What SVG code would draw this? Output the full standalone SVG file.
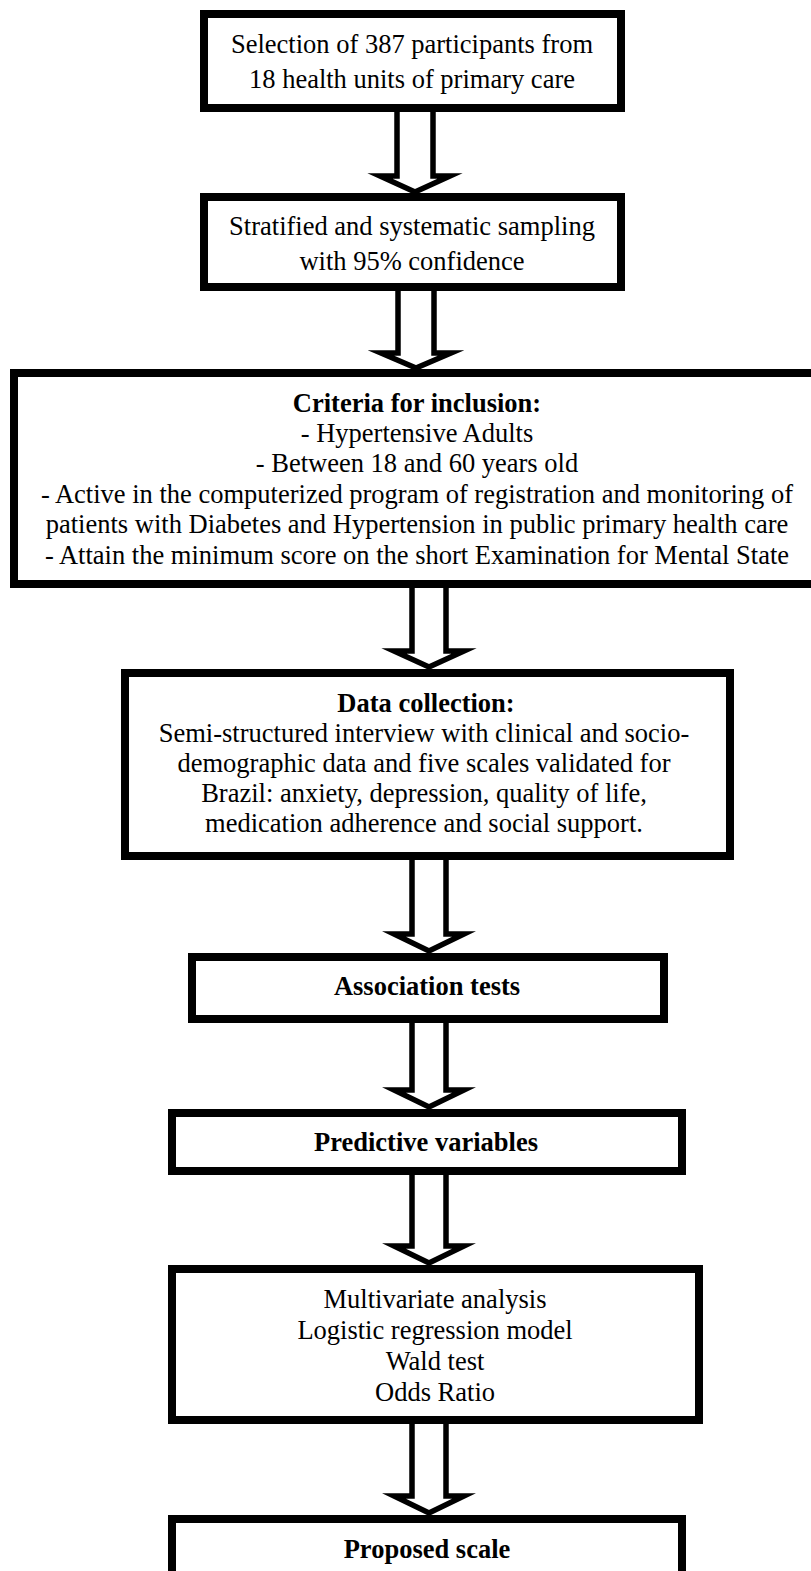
<svg xmlns="http://www.w3.org/2000/svg" width="811" height="1571" viewBox="0 0 811 1571">
<style>
.box{fill:#fff;stroke:#000;stroke-width:8}
.arr{fill:none;stroke:#000;stroke-width:5.5;stroke-linejoin:miter;stroke-miterlimit:10}
text{font-family:"Liberation Serif","Times New Roman",serif;font-size:26.5px;fill:#000;text-anchor:middle}
.b{font-weight:bold}
</style>
<rect width="811" height="1571" fill="#fff"/>
<g id="connectors">
<path class="arr" d="M397,112 V176 H380 L415,192 L450,176 H433 V112"/>
<path class="arr" d="M398,291 V353 H381 L416,368 L451,353 H434 V291"/>
<path class="arr" d="M412,588 V651 H394 L429,667 L464,651 H446 V588"/>
<path class="arr" d="M412,860 V934 H394 L429,951 L464,934 H446 V860"/>
<path class="arr" d="M412,1023 V1090 H394 L429,1107 L464,1090 H446 V1023"/>
<path class="arr" d="M412,1175 V1246 H394 L429,1263 L464,1246 H446 V1175"/>
<path class="arr" d="M412,1424 V1496 H394 L429,1513 L464,1496 H446 V1424"/>
</g>
<g id="n1">
<rect class="box" x="204" y="14" width="417" height="94"/>
<text x="412" y="53">Selection of 387 participants from</text>
<text x="412" y="88">18 health units of primary care</text>
</g>
<g id="n2">
<rect class="box" x="204" y="197" width="417" height="90"/>
<text x="412" y="235">Stratified and systematic sampling</text>
<text x="412" y="270">with 95% confidence</text>
</g>
<g id="n3">
<rect class="box" x="14" y="373" width="812" height="211"/>
<text x="417" y="412" class="b">Criteria for inclusion:</text>
<text x="417" y="442">- Hypertensive Adults</text>
<text x="417" y="472">- Between 18 and 60 years old</text>
<text x="417" y="503">- Active in the computerized program of registration and monitoring of</text>
<text x="417" y="533">patients with Diabetes and Hypertension in public primary health care</text>
<text x="417" y="564">- Attain the minimum score on the short Examination for Mental State</text>
</g>
<g id="n4">
<rect class="box" x="125" y="673" width="605" height="183"/>
<text x="426" y="712" class="b">Data collection:</text>
<text x="424" y="742">Semi-structured interview with clinical and socio-</text>
<text x="424" y="772">demographic data and five scales validated for</text>
<text x="424" y="802">Brazil: anxiety, depression, quality of life,</text>
<text x="424" y="832">medication adherence and social support.</text>
</g>
<g id="n5">
<rect class="box" x="192" y="957" width="472" height="62"/>
<text x="427" y="995" class="b">Association tests</text>
</g>
<g id="n6">
<rect class="box" x="172" y="1113" width="510" height="58"/>
<text x="426" y="1151" class="b">Predictive variables</text>
</g>
<g id="n7">
<rect class="box" x="172" y="1269" width="527" height="151"/>
<text x="435" y="1308">Multivariate analysis</text>
<text x="435" y="1339">Logistic regression model</text>
<text x="435" y="1370">Wald test</text>
<text x="435" y="1401">Odds Ratio</text>
</g>
<g id="n8">
<rect class="box" x="172" y="1519" width="510" height="90"/>
<text x="427" y="1558" class="b">Proposed scale</text>
</g>
</svg>
